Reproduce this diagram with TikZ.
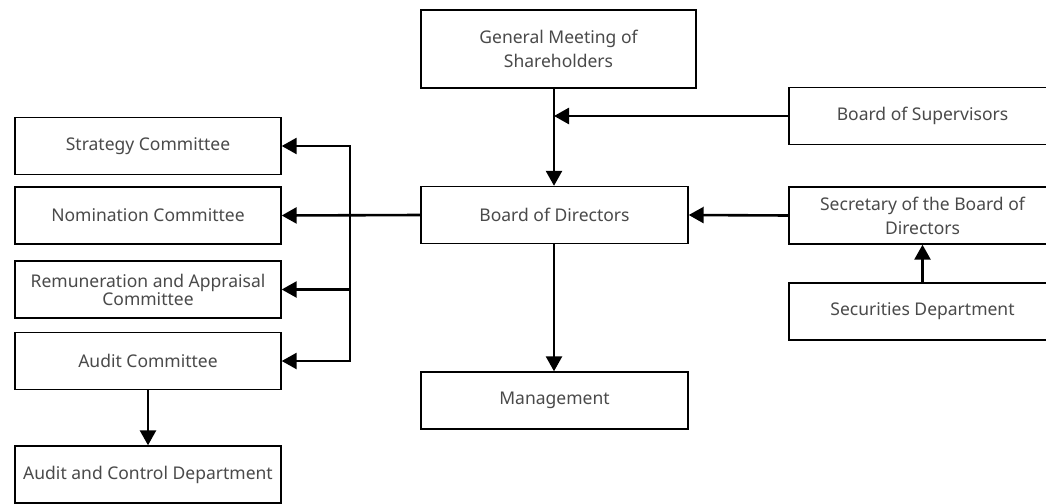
\documentclass[tikz,border=0pt]{standalone}
\usepackage{fontspec}
\setmainfont{Noto Sans}
\usetikzlibrary{arrows.meta}
\definecolor{txt}{HTML}{4A4A4A}
\tikzset{
  box/.style={draw=black, line width=1.4pt, fill=white, minimum width=#1, minimum height=57pt, inner sep=0pt, align=center, text=txt, font=\fontsize{17.5}{24}\selectfont},
  box/.default=266pt,
  tight/.style={font=\fontsize{17.5}{18}\selectfont},
  tip/.tip={Triangle[length=15pt,width=16pt]},
  conn/.style={line width=2.6pt, -tip},
  both/.style={line width=2.6pt, tip-tip}
}
\begin{document}
\begin{tikzpicture}[x=1pt,y=-1pt]
\useasboundingbox (0,0) rectangle (1046,503);
\clip (0,0) rectangle (1046,503);
% left column
\node[box] (strat) at (148,146) {Strategy Committee};
\node[box] (nom) at (148,215.5) {Nomination Committee};
\node[box, tight] (rem) at (148,289.5) {Remuneration and Appraisal\\Committee};
\node[box] (aud) at (148,361) {Audit Committee};
\node[box] (audc) at (148,474.5) {Audit and Control Department};
% middle column
\node[box=275pt, minimum height=78pt] (gm) at (558.5,49) {General Meeting of\\Shareholders};
\node[box=267pt] (bod) at (554.5,215) {Board of Directors};
\node[box=267pt] (mgmt) at (554.5,400.5) {Management};
% right column
\node[box=267pt] (sup) at (922.5,116) {Board of Supervisors};
\node[box=267pt] (sec) at (922.5,215.5) {Secretary of the Board of\\Directors};
\node[box=267pt] (secu) at (922.5,311.5) {Securities Department};
% helper coordinates
\coordinate (bt) at (350,146);
\coordinate (bb) at (350,361);
\coordinate (br) at (350,289.5);
\coordinate (j) at (554,116);
% connectors
\draw[conn] (gm.south -| j) -- (bod.north -| j);
\draw[conn] (sup.west) -- (j);
\draw[conn] (bod.west) -- (nom.east);
\draw[both] (strat.east) -- (bt) -- (bb) -- (aud.east);
\draw[conn] (br) -- (rem.east);
\draw[conn] (bod.south -| j) -- (mgmt.north -| j);
\draw[conn] (sec.west) -- (bod.east);
\draw[conn] (secu.north) -- (sec.south);
\draw[conn] (aud.south) -- (audc.north);
\end{tikzpicture}
\end{document}
